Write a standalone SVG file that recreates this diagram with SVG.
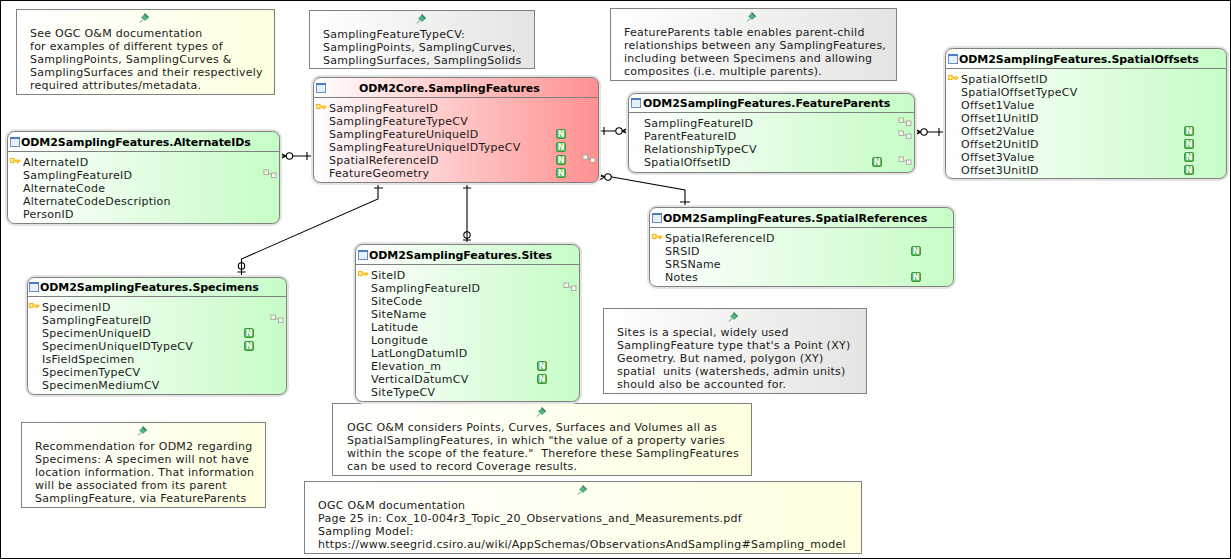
<svg xmlns="http://www.w3.org/2000/svg" width="1231" height="559" viewBox="0 0 1231 559">
<style>
text{font-family:"DejaVu Sans",Verdana,sans-serif;font-size:11px;letter-spacing:.26px;fill:#1a1a1a}
.title{font-weight:bold;fill:#000;letter-spacing:-.06px}
.n{font-size:8px;font-weight:bold;fill:#fff;text-anchor:middle;letter-spacing:0}
.halo{fill:none;stroke:#e4e4e4;stroke-width:5}
.tbl{fill:url(#g);stroke:#808080;stroke-width:1}
.core{fill:url(#r);stroke:#808080;stroke-width:1}
.note{stroke:#808080;stroke-width:1}
.y{fill:url(#y)}
.w{fill:url(#w)}
.div{stroke:#808080;stroke-width:1}
.c{fill:none;stroke:#000;stroke-width:1.1}
.o{fill:#fff;stroke:#000;stroke-width:1.1}
</style>
<defs>
<linearGradient id="g" x1="0" y1="0" x2="1" y2="0"><stop offset="0" stop-color="#fff"/><stop offset="1" stop-color="#c6fcc6"/></linearGradient>
<linearGradient id="r" x1="0" y1="0" x2="1" y2="0"><stop offset="0" stop-color="#fff"/><stop offset="1" stop-color="#ff9090"/></linearGradient>
<linearGradient id="y" x1="0" y1="0" x2="1" y2="0"><stop offset="0" stop-color="#fff"/><stop offset="1" stop-color="#ffffe0"/></linearGradient>
<linearGradient id="w" x1="0" y1="0" x2="1" y2="0"><stop offset="0" stop-color="#fff"/><stop offset="1" stop-color="#e4e4e2"/></linearGradient>
<g id="pin"><path d="M-4 4.500L-1 1.500" stroke="#5c8f78" stroke-width="1" fill="none"/><path d="M-2.500-.5L1-4l3.500 3.500L1 2.500Z" fill="#4fb583" stroke="#3c8f68" stroke-width=".6"/><path d="M.5-4.500L4.500-.5" stroke="#2f7d58" stroke-width="1.200"/></g>
<g id="tb"><rect x=".5" y=".5" width="9" height="9" fill="#e6f0fb" stroke="#6a8fc8"/><rect x="0" y="0" width="10" height="2" fill="#4a7cc0"/></g>
<g id="key"><rect x=".5" y="-2.500" width="3.500" height="4" fill="#fff3b0" stroke="#f5b820" stroke-width="1.200"/><path d="M4-1H10V.5H8.500V1.800H7V.5H5" fill="#ffd040" stroke="#f5b820" stroke-width=".8"/></g>
<g id="rel"><path d="M3-1L9 3" stroke="#999" stroke-width=".8" fill="none"/><rect x="0" y="-3" width="4.500" height="4.500" fill="#f4f4ec" stroke="#a8a89a" stroke-width=".9"/><rect x="7.500" y="0" width="4.500" height="4.500" fill="#f4f4f4" stroke="#a8a89a" stroke-width=".9"/></g>
<rect id="nb" x="-4.500" y="-4.500" width="9" height="9" rx="1.500" fill="#5cb85c" stroke="#3c9a3c"/>
</defs>
<rect x="0" y="0" width="1231" height="559" fill="#fff"/>
<rect x=".5" y=".5" width="1230" height="558" fill="none" stroke="#000"/>

<g id="connectors">
<path class="c" d="M280 156H313M307 152V160M280 153L286 156L280 159"/><circle class="o" cx="289.500" cy="156" r="3.200"/>
<path class="c" d="M598 131H628M604 127V135M628 128L622 131L628 134"/><circle class="o" cx="619" cy="131" r="3.200"/>
<path class="c" d="M914 132H945M939 128V136M915 129L921 132L915 135"/><circle class="o" cx="924" cy="132" r="3.200"/>
<path class="c" d="M598 176L612 177L685 190V207M680 202H690M599 174L605 177L599 180"/><circle class="o" cx="608" cy="177" r="3.200"/>
<path class="c" d="M467 183V244M463 188H471M463 240H471"/><circle class="o" cx="467" cy="235" r="3.200"/><path class="c" d="M467 231V239"/>
<path class="c" d="M378 183V199L241.500 259V277M374 188H383M237.500 272H245.500"/><circle class="o" cx="241.500" cy="266" r="3.200"/><path class="c" d="M241.500 262V270"/>
</g>

<g id="note-om-examples"><rect class="note y" x="16.500" y="9.500" width="258" height="85"/><use href="#pin" x="144" y="18"/>
<text x="30" y="37">See OGC O&amp;M documentation</text><text x="30" y="50">for examples of different types of</text><text x="30" y="63">SamplingPoints, SamplingCurves &amp;</text><text x="30" y="76">SamplingSurfaces and their respectively</text><text x="30" y="89">required attributes/metadata.</text></g>

<g id="note-typecv"><rect class="note w" x="309.500" y="10.500" width="225" height="58"/><use href="#pin" x="421" y="19"/>
<text x="323" y="38">SamplingFeatureTypeCV:</text><text x="323" y="51">SamplingPoints, SamplingCurves,</text><text x="323" y="64">SamplingSurfaces, SamplingSolids</text></g>

<g id="note-featureparents"><rect class="note w" x="610.500" y="8.500" width="286" height="72"/><use href="#pin" x="751" y="17"/>
<text x="624" y="36">FeatureParents table enables parent-child</text><text x="624" y="49">relationships between any SamplingFeatures,</text><text x="624" y="62">including between Specimens and allowing</text><text x="624" y="75">composites (i.e. multiple parents).</text></g>

<g id="note-sites"><rect class="note w" x="603.500" y="308.500" width="263" height="85"/><use href="#pin" x="733" y="317"/>
<text x="617" y="336">Sites is a special, widely used</text><text x="617" y="349">SamplingFeature type that's a Point (XY)</text><text x="617" y="362">Geometry. But named, polygon (XY)</text><text x="617" y="375" xml:space="preserve">spatial  units (watersheds, admin units)</text><text x="617" y="388">should also be accounted for.</text></g>

<g id="note-coverage"><rect class="note y" x="332.500" y="403.500" width="419" height="72"/><use href="#pin" x="541" y="412"/>
<text x="347" y="431">OGC O&amp;M considers Points, Curves, Surfaces and Volumes all as</text><text x="347" y="444">SpatialSamplingFeatures, in which "the value of a property varies</text><text x="347" y="457" xml:space="preserve">within the scope of the feature."  Therefore these SamplingFeatures</text><text x="347" y="470">can be used to record Coverage results.</text></g>

<g id="note-documentation"><rect class="note y" x="304.500" y="481.500" width="557" height="72"/><use href="#pin" x="582" y="490"/>
<text x="318" y="509">OGC O&amp;M documentation</text><text x="318" y="522">Page 25 in: Cox_10-004r3_Topic_20_Observations_and_Measurements.pdf</text><text x="318" y="535">Sampling Model:</text><text x="318" y="548">https://www.seegrid.csiro.au/wiki/AppSchemas/ObservationsAndSampling#Sampling_model</text></g>

<g id="note-recommendation"><rect class="note y" x="21.500" y="422.500" width="244" height="85"/><use href="#pin" x="142" y="431"/>
<text x="35" y="450">Recommendation for ODM2 regarding</text><text x="35" y="463">Specimens: A specimen will not have</text><text x="35" y="476">location information. That information</text><text x="35" y="489">will be associated from its parent</text><text x="35" y="502">SamplingFeature, via FeatureParents</text></g>

<g id="table-alternateids"><rect class="halo" x="7.500" y="131.500" width="272" height="92" rx="7"/><rect class="tbl" x="7.500" y="131.500" width="272" height="92" rx="7"/><path class="div" d="M8 151.500H279"/><use href="#tb" x="10" y="137"/>
<text class="title" x="21" y="146">ODM2SamplingFeatures.AlternateIDs</text><use href="#key" x="10" y="161"/>
<text x="23" y="166">AlternateID</text><text x="23" y="179">SamplingFeatureID</text><text x="23" y="192">AlternateCode</text><text x="23" y="205">AlternateCodeDescription</text><text x="23" y="218">PersonID</text><use href="#rel" x="264" y="173"/></g>

<g id="table-samplingfeatures"><rect class="halo" x="313.500" y="77.500" width="285" height="105" rx="7"/><rect class="core" x="313.500" y="77.500" width="285" height="105" rx="7"/><path class="div" d="M314 97.500H598"/><use href="#tb" x="316" y="83"/>
<text class="title" x="359" y="92">ODM2Core.SamplingFeatures</text><use href="#key" x="316" y="107"/>
<text x="329" y="112">SamplingFeatureID</text><text x="329" y="125">SamplingFeatureTypeCV</text><text x="329" y="138">SamplingFeatureUniqueID</text><text x="329" y="151">SamplingFeatureUniqueIDTypeCV</text><text x="329" y="164">SpatialReferenceID</text><text x="329" y="177">FeatureGeometry</text>
<use href="#nb" x="561" y="134"/><text class="n" x="561" y="137">N</text><use href="#nb" x="561" y="147"/><text class="n" x="561" y="150">N</text><use href="#nb" x="561" y="160"/><text class="n" x="561" y="163">N</text><use href="#nb" x="561" y="173"/><text class="n" x="561" y="176">N</text><use href="#rel" x="583" y="158"/></g>

<g id="table-featureparents"><rect class="halo" x="628.500" y="93.500" width="286" height="79" rx="7"/><rect class="tbl" x="628.500" y="93.500" width="286" height="79" rx="7"/><path class="div" d="M629 112.500H914"/><use href="#tb" x="631" y="98"/>
<text class="title" x="643" y="107">ODM2SamplingFeatures.FeatureParents</text>
<text x="644" y="127">SamplingFeatureID</text><text x="644" y="140">ParentFeatureID</text><text x="644" y="153">RelationshipTypeCV</text><text x="644" y="166">SpatialOffsetID</text>
<use href="#rel" x="899" y="121"/><use href="#rel" x="899" y="134"/><use href="#rel" x="899" y="160"/><use href="#nb" x="877" y="162"/><text class="n" x="877" y="165">N</text></g>

<g id="table-spatialoffsets"><rect class="halo" x="945.500" y="48.500" width="281" height="130" rx="7"/><rect class="tbl" x="945.500" y="48.500" width="281" height="130" rx="7"/><path class="div" d="M946 68.500H1226"/><use href="#tb" x="948" y="54"/>
<text class="title" x="959" y="63">ODM2SamplingFeatures.SpatialOffsets</text><use href="#key" x="948" y="78"/>
<text x="961" y="83">SpatialOffsetID</text><text x="961" y="96">SpatialOffsetTypeCV</text><text x="961" y="109">Offset1Value</text><text x="961" y="122">Offset1UnitID</text><text x="961" y="135">Offset2Value</text><text x="961" y="148">Offset2UnitID</text><text x="961" y="161">Offset3Value</text><text x="961" y="174">Offset3UnitID</text>
<use href="#nb" x="1189" y="131"/><text class="n" x="1189" y="134">N</text><use href="#nb" x="1189" y="144"/><text class="n" x="1189" y="147">N</text><use href="#nb" x="1189" y="157"/><text class="n" x="1189" y="160">N</text><use href="#nb" x="1189" y="170"/><text class="n" x="1189" y="173">N</text></g>

<g id="table-spatialreferences"><rect class="halo" x="649.500" y="207.500" width="304" height="79" rx="7"/><rect class="tbl" x="649.500" y="207.500" width="304" height="79" rx="7"/><path class="div" d="M650 227.500H953"/><use href="#tb" x="652" y="213"/>
<text class="title" x="663" y="222">ODM2SamplingFeatures.SpatialReferences</text><use href="#key" x="652" y="237"/>
<text x="665" y="242">SpatialReferenceID</text><text x="665" y="255">SRSID</text><text x="665" y="268">SRSName</text><text x="665" y="281">Notes</text>
<use href="#nb" x="916" y="251"/><text class="n" x="916" y="254">N</text><use href="#nb" x="916" y="277"/><text class="n" x="916" y="280">N</text></g>

<g id="table-specimens"><rect class="halo" x="27.500" y="277.500" width="259" height="117" rx="7"/><rect class="tbl" x="27.500" y="277.500" width="259" height="117" rx="7"/><path class="div" d="M28 296.500H286"/><use href="#tb" x="29" y="282"/>
<text class="title" x="40" y="291">ODM2SamplingFeatures.Specimens</text><use href="#key" x="29" y="306"/>
<text x="42" y="311">SpecimenID</text><text x="42" y="324">SamplingFeatureID</text><text x="42" y="337">SpecimenUniqueID</text><text x="42" y="350">SpecimenUniqueIDTypeCV</text><text x="42" y="363">IsFieldSpecimen</text><text x="42" y="376">SpecimenTypeCV</text><text x="42" y="389">SpecimenMediumCV</text>
<use href="#rel" x="271" y="318"/><use href="#nb" x="249" y="333"/><text class="n" x="249" y="336">N</text><use href="#nb" x="249" y="346"/><text class="n" x="249" y="349">N</text></g>

<g id="table-sites"><rect class="halo" x="355.500" y="244.500" width="224" height="157" rx="7"/><rect class="tbl" x="355.500" y="244.500" width="224" height="157" rx="7"/><path class="div" d="M356 264.500H579"/><use href="#tb" x="358" y="250"/>
<text class="title" x="369" y="259">ODM2SamplingFeatures.Sites</text><use href="#key" x="358" y="274"/>
<text x="371" y="279">SiteID</text><text x="371" y="292">SamplingFeatureID</text><text x="371" y="305">SiteCode</text><text x="371" y="318">SiteName</text><text x="371" y="331">Latitude</text><text x="371" y="344">Longitude</text><text x="371" y="357">LatLongDatumID</text><text x="371" y="370">Elevation_m</text><text x="371" y="383">VerticalDatumCV</text><text x="371" y="396">SiteTypeCV</text>
<use href="#rel" x="564" y="286"/><use href="#nb" x="542" y="366"/><text class="n" x="542" y="369">N</text><use href="#nb" x="542" y="379"/><text class="n" x="542" y="382">N</text></g>
</svg>
